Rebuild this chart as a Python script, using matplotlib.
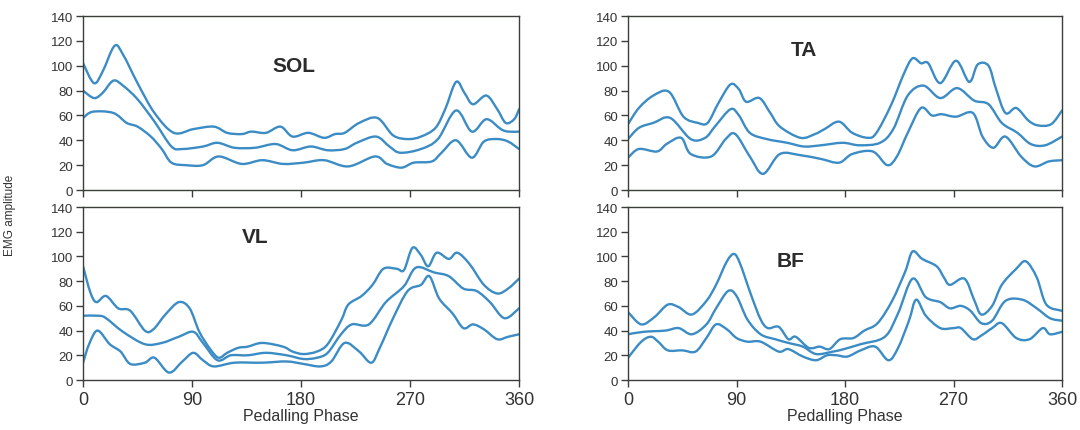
import matplotlib.pyplot as plt
from matplotlib.path import Path
from matplotlib.patches import PathPatch

plt.rcParams['font.family'] = ['Liberation Sans', 'DejaVu Sans']

LINE = '#3b8cc4'
FRAME = '#3a3f3a'

# SOL: upper band, mean, lower band (phase in degrees, EMG amplitude)
sol_up_x = [0, 9, 16, 26, 33, 45, 59, 75, 91, 108, 119, 131, 139, 151, 163, 173, 186, 199, 208, 216,
            228, 243, 256, 268, 279, 291, 299, 308, 315, 322, 333, 342, 349, 356, 360]
sol_up_y = [102, 86, 95, 116, 109, 86, 62, 46, 49, 51, 46, 45, 47, 46, 51, 43, 46, 42, 45, 46,
            54, 58, 44, 41, 43, 50, 65, 87, 78, 69, 76, 65, 54, 57, 65]
sol_mean_x = [0, 9, 16, 25, 33, 45, 59, 73, 82, 99, 111, 125, 142, 159, 173, 188, 202, 216, 226, 242,
              253, 262, 279, 293, 308, 321, 333, 345, 351, 360]
sol_mean_y = [80, 74, 78, 88, 84, 73, 55, 35, 33, 35, 38, 34, 34, 37, 32, 35, 32, 33, 38, 43,
              35, 30, 33, 41, 64, 47, 57, 49, 47, 47]
sol_low_x = [0, 8, 25, 36, 45, 56, 65, 73, 85, 99, 112, 131, 148, 165, 182, 199, 219, 241, 251, 263,
             273, 288, 296, 308, 321, 331, 342, 351, 360]
sol_low_y = [58, 63, 62, 54, 51, 43, 33, 22, 20, 20, 27, 21, 24, 21, 22, 24, 19, 27, 21, 18,
             22, 23, 30, 40, 26, 39, 41, 39, 33]

# TA
ta_up_x = [0, 9, 21, 34, 46, 58, 66, 75, 85, 92, 98, 109, 118, 126, 143, 155, 163, 175, 186, 199,
           206, 218, 229, 236, 243, 249, 259, 272, 283, 290, 299, 305, 313, 322, 332, 340, 351, 360]
ta_up_y = [53, 66, 76, 79, 59, 54, 54, 70, 85, 81, 71, 74, 62, 51, 42, 45, 49, 55, 46, 42,
           46, 68, 94, 106, 102, 102, 86, 104, 87, 101, 100, 82, 62, 66, 56, 52, 53, 64]
ta_mean_x = [0, 9, 21, 35, 52, 64, 72, 85, 92, 101, 115, 132, 146, 160, 178, 192, 209, 220, 232, 245,
             259, 273, 287, 299, 310, 323, 334, 346, 360]
ta_mean_y = [41, 50, 54, 58, 41, 42, 51, 65, 60, 46, 41, 38, 35, 36, 38, 36, 38, 49, 76, 84,
             74, 82, 72, 69, 54, 46, 37, 36, 43]
ta_low_x = [0, 9, 24, 32, 44, 52, 69, 81, 89, 101, 112, 126, 143, 160, 175, 186, 203, 215, 223, 232,
            243, 252, 260, 272, 286, 294, 303, 313, 326, 337, 349, 360]
ta_low_y = [26, 33, 31, 37, 42, 29, 27, 41, 45, 27, 13, 29, 28, 25, 22, 29, 31, 20, 27, 46,
            66, 60, 61, 59, 62, 43, 34, 43, 27, 19, 23, 24]

# VL
vl_up_x = [0, 6, 11, 19, 29, 39, 51, 58, 68, 79, 88, 96, 105, 112, 119, 128, 136, 148, 165, 173,
           182, 193, 202, 213, 219, 230, 239, 248, 259, 265, 272, 279, 285, 292, 302, 309, 319, 331,
           342, 351, 360]
vl_up_y = [92, 71, 63, 68, 58, 56, 40, 41, 53, 63, 58, 39, 25, 18, 22, 26, 27, 30, 27, 23,
           21, 23, 29, 48, 61, 68, 77, 90, 90, 89, 107, 101, 92, 103, 98, 103, 94, 77,
           70, 74, 82]
vl_mean_x = [0, 13, 19, 33, 51, 65, 79, 91, 99, 111, 122, 136, 151, 168, 182, 193, 202, 213, 222, 236,
             250, 265, 275, 290, 302, 314, 325, 336, 348, 360]
vl_mean_y = [52, 52, 50, 39, 29, 30, 35, 39, 30, 16, 20, 20, 22, 20, 17, 18, 22, 37, 45, 45,
             63, 76, 91, 87, 84, 74, 72, 63, 50, 58]
vl_low_x = [0, 5, 12, 22, 31, 39, 51, 59, 71, 82, 91, 99, 108, 125, 148, 168, 182, 196, 205, 216,
            228, 238, 245, 256, 268, 279, 286, 294, 305, 314, 322, 331, 342, 351, 360]
vl_low_y = [14, 29, 40, 29, 23, 13, 14, 18, 6, 15, 22, 16, 11, 14, 14, 15, 13, 11, 15, 30,
            23, 14, 26, 50, 72, 77, 84, 66, 54, 42, 45, 41, 33, 35, 37]

# BF
bf_up_x = [0, 11, 22, 33, 42, 53, 65, 73, 82, 88, 93, 102, 110, 116, 125, 133, 139, 150, 159, 167,
           176, 187, 196, 207, 219, 230, 236, 244, 256, 262, 267, 279, 287, 293, 302, 310, 322, 330,
           339, 347, 360]
bf_up_y = [55, 45, 51, 61, 59, 53, 64, 77, 96, 102, 94, 69, 49, 42, 43, 33, 35, 26, 27, 25,
           33, 34, 40, 46, 64, 88, 104, 98, 92, 83, 77, 82, 65, 53, 60, 77, 90, 96,
           83, 61, 56]
bf_mean_x = [0, 13, 31, 42, 53, 65, 73, 83, 90, 99, 110, 122, 133, 145, 156, 170, 179, 193, 213, 224,
             236, 247, 259, 267, 276, 284, 293, 302, 313, 327, 339, 350, 360]
bf_mean_y = [37, 39, 40, 42, 37, 45, 58, 72, 68, 49, 37, 33, 30, 27, 21, 23, 25, 29, 35, 54,
             82, 67, 63, 58, 60, 56, 46, 48, 64, 65, 58, 50, 48]
bf_low_x = [0, 11, 19, 25, 33, 45, 56, 65, 73, 82, 90, 99, 110, 125, 133, 145, 156, 165, 173, 182,
            193, 205, 216, 224, 233, 239, 247, 259, 270, 276, 286, 293, 302, 310, 322, 333, 344,
            350, 360]
bf_low_y = [18, 31, 35, 31, 24, 24, 23, 34, 45, 41, 34, 31, 31, 23, 25, 19, 16, 20, 20, 19,
            24, 27, 16, 26, 48, 65, 52, 42, 42, 42, 33, 36, 42, 46, 34, 33, 42,
            37, 39]

panels = [
    ('SOL', [(sol_up_x, sol_up_y), (sol_mean_x, sol_mean_y), (sol_low_x, sol_low_y)], (174, 100)),
    ('TA', [(ta_up_x, ta_up_y), (ta_mean_x, ta_mean_y), (ta_low_x, ta_low_y)], (146, 113)),
    ('VL', [(vl_up_x, vl_up_y), (vl_mean_x, vl_mean_y), (vl_low_x, vl_low_y)], (142, 116)),
    ('BF', [(bf_up_x, bf_up_y), (bf_mean_x, bf_mean_y), (bf_low_x, bf_low_y)], (135, 97)),
]


def smooth_line(ax, xs, ys, **kw):
    # Catmull-Rom through the points, drawn as cubic Bezier segments
    verts = [(xs[0], ys[0])]
    codes = [Path.MOVETO]
    n = len(xs)
    for i in range(n - 1):
        x0, y0 = (xs[i - 1], ys[i - 1]) if i > 0 else (xs[i], ys[i])
        x1, y1 = xs[i], ys[i]
        x2, y2 = xs[i + 1], ys[i + 1]
        x3, y3 = (xs[i + 2], ys[i + 2]) if i + 2 < n else (x2, y2)
        c1 = (x1 + (x2 - x0) / 6, y1 + (y2 - y0) / 6)
        c2 = (x2 - (x3 - x1) / 6, y2 - (y3 - y1) / 6)
        verts += [c1, c2, (x2, y2)]
        codes += [Path.CURVE4] * 3
    ax.add_patch(PathPatch(Path(verts, codes), fill=False, **kw))


fig = plt.figure(figsize=(10.8, 4.31), dpi=100)
boxes = [
    [0.0769, 0.5568, 0.4037, 0.4037],
    [0.5815, 0.5568, 0.4019, 0.4037],
    [0.0769, 0.1160, 0.4037, 0.4014],
    [0.5815, 0.1160, 0.4019, 0.4014],
]

for i, (name, lines, pos) in enumerate(panels):
    ax = fig.add_axes(boxes[i])
    for xs, ys in lines:
        smooth_line(ax, xs, ys, edgecolor=LINE, lw=1.7, joinstyle='round', capstyle='round')
    ax.set_xlim(0, 360)
    ax.set_ylim(0, 140)
    ax.set_xticks([0, 90, 180, 270, 360])
    ax.set_yticks(range(0, 141, 20))
    ax.tick_params(axis='y', direction='out', length=5, width=1, labelsize=9.5,
                   labelcolor='#333333', color=FRAME, pad=2)
    ax.tick_params(axis='x', direction='out', length=5, width=1, labelsize=13,
                   labelcolor='#333333', color=FRAME, pad=3)
    for s in ax.spines.values():
        s.set_color(FRAME)
        s.set_linewidth(1.0)
    if i < 2:
        ax.set_xticklabels([])
    else:
        ax.set_xlabel('Pedalling Phase', fontsize=11.5, color='#333333', labelpad=0)
    ax.text(pos[0], pos[1], name, fontsize=15, fontweight='bold', color='#2b2b2b',
            ha='center', va='center')

fig.text(0.009, 0.50, 'EMG amplitude', rotation=90, fontsize=8.5, color='#333333',
         ha='center', va='center')

fig.savefig('out.png', dpi=100, facecolor='white')
